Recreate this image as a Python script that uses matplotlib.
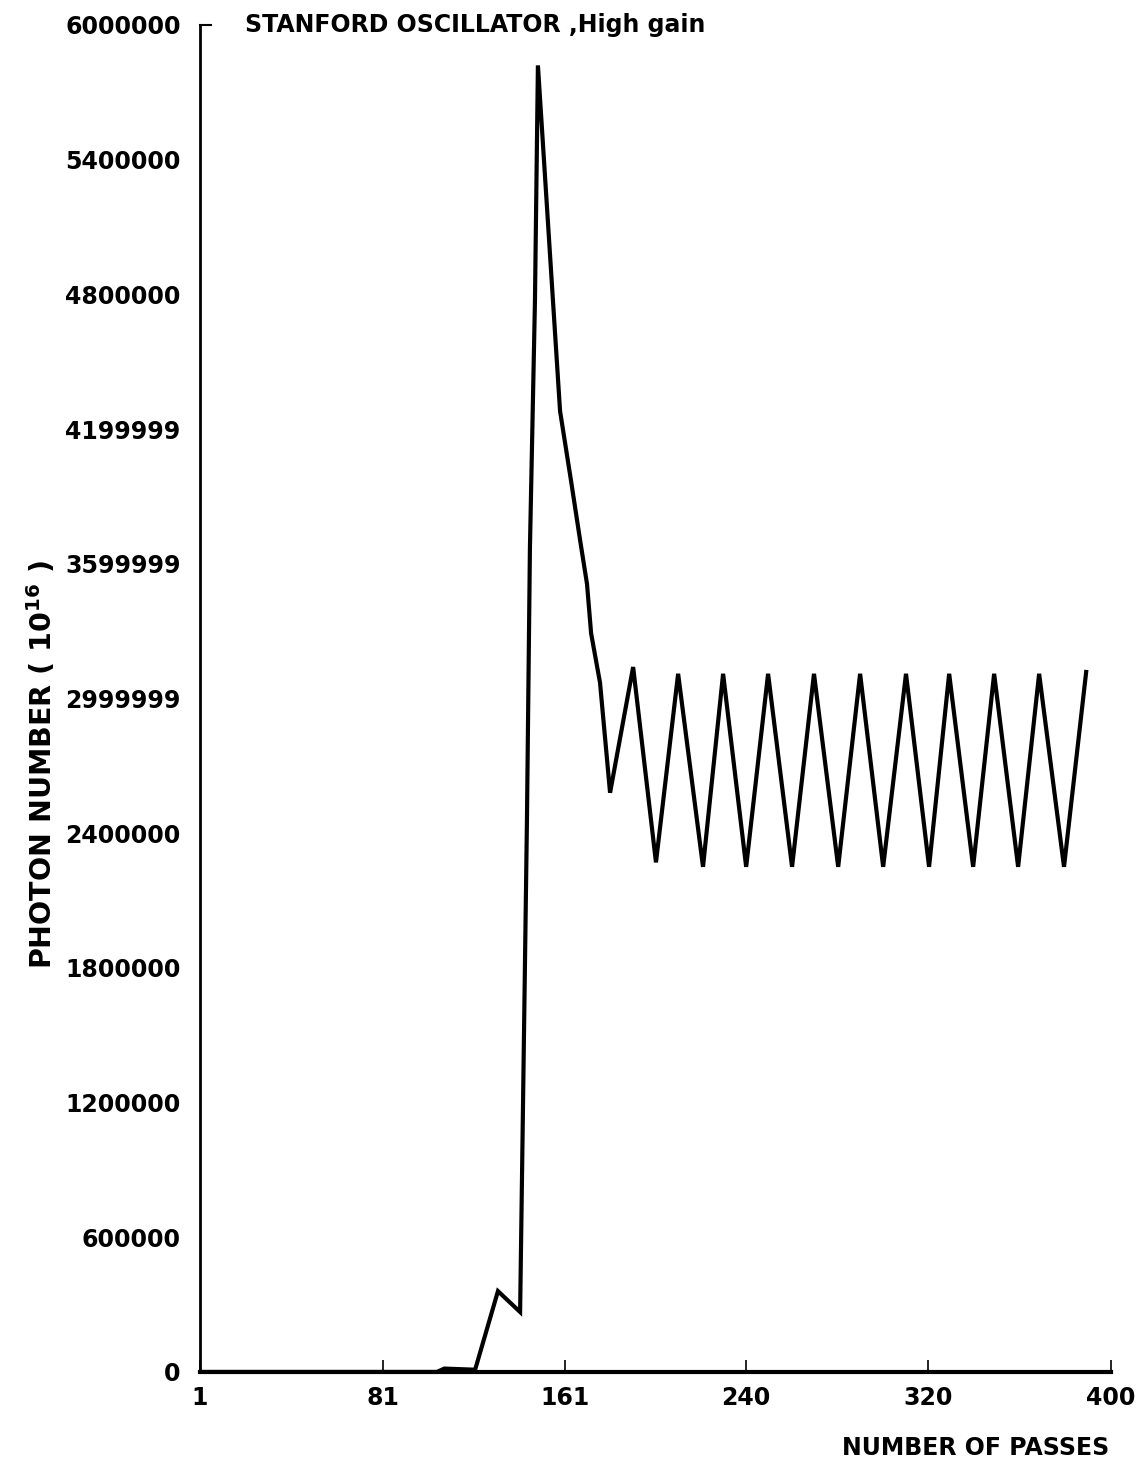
import matplotlib.pyplot as plt
import numpy as np

# passes / photon number
passes = [1, 104.8, 108, 121.5, 131.5, 141.2, 142.5, 144.2, 145.5, 147.7, 149.0,
          155.6, 158.7, 163.5, 167.4, 170.5, 172.3, 176.2, 180.6,
          190.7, 200.7, 210.4, 221.3, 230.1, 240.2, 249.8, 260.3, 269.9, 280.5,
          290.1, 300.2, 310.2, 320.3, 329.1, 339.6, 348.8, 359.3, 368.5, 379.4, 389.1]
photons = [0, 0, 15000, 10000, 360000, 267000, 1210000, 2460000, 3670000, 4770000, 5820000,
           4770000, 4280000, 3970000, 3710000, 3510000, 3290000, 3070000, 2580000,
           3140000, 2270000, 3110000, 2250000, 3110000, 2250000, 3110000, 2250000, 3110000, 2250000,
           3110000, 2250000, 3110000, 2250000, 3110000, 2250000, 3110000, 2250000, 3110000, 2250000, 3118000]

ytick_vals = [0, 600000, 1200000, 1800000, 2400000, 3000000, 3600000, 4200000, 4800000, 5400000, 6000000]
ytick_labels = ['0', '600000', '1200000', '1800000', '2400000', '2999999',
                '3599999', '4199999', '4800000', '5400000', '6000000']
xtick_vals = [1, 81, 161, 240, 320, 400]
xtick_labels = ['1', '81', '161', '240', '320', '400']

fs = 17
fig = plt.figure(figsize=(11.44, 14.70), dpi=100)
ax = fig.add_axes([0.1748, 0.0667, 0.9712 - 0.1748, 0.983 - 0.0667])
ax.plot(passes, photons, color='black', lw=3.0, solid_joinstyle='miter')

ax.set_xlim(1, 400)
ax.set_ylim(0, 6000000)
ax.spines['top'].set_visible(False)
ax.spines['right'].set_visible(False)
ax.spines['left'].set_linewidth(2.0)
ax.spines['bottom'].set_linewidth(3.0)

ax.set_yticks(ytick_vals)
ax.set_yticklabels(ytick_labels, fontsize=fs, fontweight='bold')
ax.tick_params(axis='y', length=0, pad=14)
ax.set_xticks(xtick_vals)
ax.set_xticklabels(xtick_labels, fontsize=fs, fontweight='bold')
ax.tick_params(axis='x', direction='in', length=9, width=1.2, pad=10)

# small stub at the top of the y axis
ax.plot([0, 0.012], [1, 1], transform=ax.transAxes, color='black', lw=1.5, clip_on=False)

fig.text(0.214, 0.983, 'STANFORD OSCILLATOR ,High gain', fontsize=fs, fontweight='bold',
         ha='left', va='center')
fig.text(0.036, 0.48, 'PHOTON NUMBER ( 10$^{\\mathbf{16}}$ )', fontsize=20.5, fontweight='bold',
         rotation=90, ha='center', va='center')
fig.text(0.97, 0.015, 'NUMBER OF PASSES', fontsize=fs, fontweight='bold',
         ha='right', va='center')

plt.savefig('out.png', dpi=100)
